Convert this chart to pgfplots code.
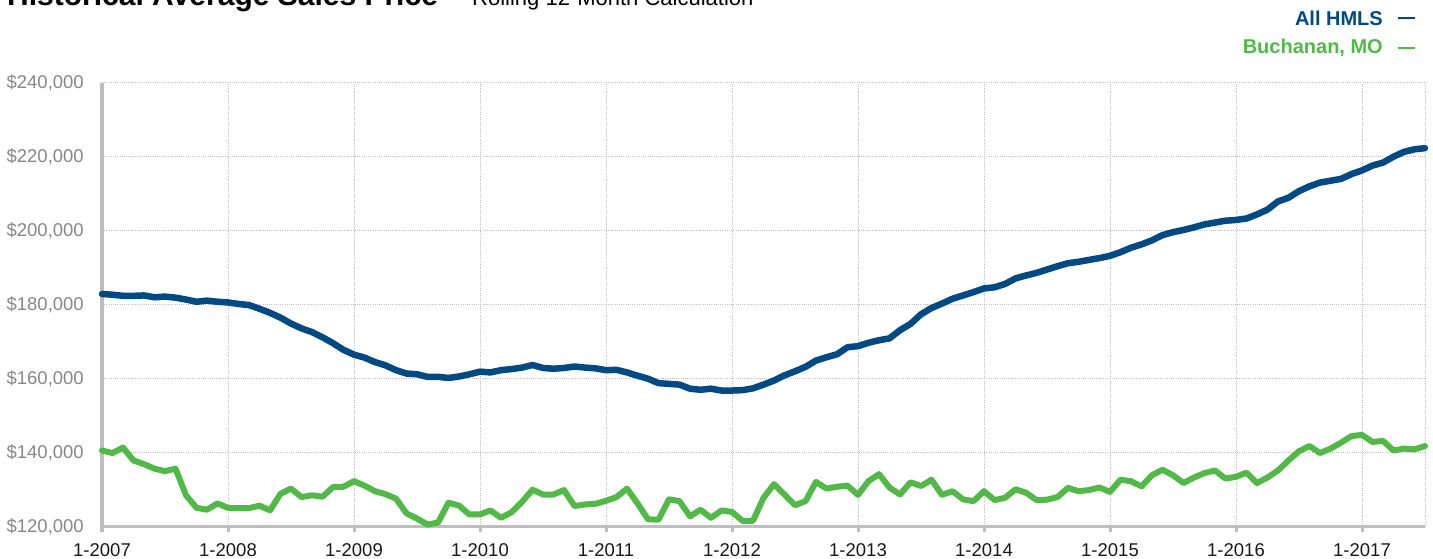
\documentclass[border=0pt]{standalone}
\usepackage{fontspec}
\setmainfont{Liberation Sans}
\usepackage{pgfplots}
\usepackage{pgfplotstable}
\pgfplotsset{compat=1.18}
\definecolor{hmls}{RGB}{0,73,131}
\definecolor{buch}{RGB}{82,185,72}
\definecolor{axgray}{RGB}{190,190,190}
\definecolor{lblgray}{RGB}{135,135,135}

\pgfplotstableread{
m v
0 182900
1 182700
2 182400
3 182400
4 182500
5 182000
6 182200
7 181900
8 181400
9 180800
10 181100
11 180800
12 180600
13 180200
14 179900
15 178900
16 177800
17 176500
18 174900
19 173600
20 172600
21 171200
22 169600
23 167800
24 166500
25 165700
26 164500
27 163600
28 162300
29 161400
30 161200
31 160500
32 160500
33 160200
34 160600
35 161200
36 161900
37 161700
38 162300
39 162600
40 163000
41 163700
42 162900
43 162700
44 162900
45 163300
46 163000
47 162800
48 162300
49 162400
50 161700
51 160800
52 160000
53 158800
54 158600
55 158400
56 157300
57 157000
58 157300
59 156800
60 156800
61 156900
62 157400
63 158400
64 159500
65 160900
66 162000
67 163200
68 164900
69 165800
70 166600
71 168500
72 168800
73 169700
74 170400
75 170900
76 173100
77 174800
78 177400
79 179100
80 180300
81 181600
82 182500
83 183400
84 184400
85 184700
86 185600
87 187100
88 187900
89 188600
90 189500
91 190400
92 191200
93 191600
94 192100
95 192600
96 193200
97 194200
98 195400
99 196300
100 197400
101 198800
102 199600
103 200200
104 200900
105 201700
106 202200
107 202700
108 202900
109 203300
110 204400
111 205700
112 207900
113 208900
114 210700
115 212000
116 213000
117 213500
118 214000
119 215300
120 216300
121 217600
122 218400
123 220000
124 221300
125 222000
126 222300
}\hmlsdata

\pgfplotstableread{
m v
0 140600
1 139900
2 141400
3 137900
4 136900
5 135700
6 135000
7 135700
8 128500
9 125100
10 124600
11 126300
12 125100
13 125000
14 125000
15 125700
16 124400
17 128900
18 130300
19 128000
20 128500
21 128100
22 130700
23 130800
24 132300
25 131100
26 129600
27 128800
28 127600
29 123600
30 122200
31 120600
32 121100
33 126500
34 125700
35 123300
36 123300
37 124400
38 122400
39 123900
40 126700
41 130000
42 128700
43 128700
44 129900
45 125600
46 126000
47 126200
48 127000
49 128000
50 130300
51 126300
52 122000
53 121900
54 127400
55 126900
56 122800
57 124600
58 122400
59 124400
60 124000
61 121600
62 121600
63 127800
64 131500
65 128700
66 125800
67 126900
68 132100
69 130300
70 130800
71 131100
72 128600
73 132300
74 134200
75 130600
76 128700
77 132000
78 131000
79 132700
80 128600
81 129600
82 127400
83 126900
84 129600
85 127200
86 127800
87 130100
88 129200
89 127200
90 127300
91 128000
92 130500
93 129600
94 129900
95 130600
96 129400
97 132700
98 132300
99 130900
100 133900
101 135400
102 133900
103 131800
104 133300
105 134500
106 135200
107 133000
108 133500
109 134600
110 131800
111 133300
112 135200
113 137900
114 140400
115 141800
116 139900
117 141100
118 142700
119 144500
120 144800
121 142900
122 143200
123 140600
124 141100
125 140900
126 141800
}\buchdata

\begin{document}
\begin{tikzpicture}
\useasboundingbox (0,0) rectangle (1433bp,559bp);
\begin{axis}[
  at={(102bp,32.3bp)}, anchor=south west,
  scale only axis, width=1323bp, height=444bp,
  xmin=0, xmax=126, ymin=120000, ymax=240000,
  clip=false,
  scaled ticks=false,
  axis x line*=bottom, axis y line*=left,
  axis line style={-, draw=axgray, line width=3.5bp},
  xtick={0,12,...,120},
  xticklabels={1-2007,1-2008,1-2009,1-2010,1-2011,1-2012,1-2013,1-2014,1-2015,1-2016,1-2017},
  ytick={120000,140000,160000,180000,200000,220000,240000},
  yticklabels={{\$120,000},{\$140,000},{\$160,000},{\$180,000},{\$200,000},{\$220,000},{\$240,000}},
  extra x ticks={126}, extra x tick labels={},
  extra x tick style={major tick length=0pt, grid=major},
  grid=major,
  major grid style={draw=axgray, line width=0.9bp, dash pattern=on 1bp off 1.2bp},
  tick align=outside,
  major tick length=5bp,
  x tick style={draw=axgray, line width=3bp},
  y tick style={draw=none},
  x tick label style={font=\fontsize{18.5bp}{22bp}\selectfont, text=black!90, inner sep=0pt, anchor=north, yshift=-12bp},
  y tick label style={font=\fontsize{18.5bp}{22bp}\selectfont, text=lblgray, inner sep=0pt, anchor=east, xshift=-13bp},
]
\addplot[draw=buch, line width=6bp, line join=round, line cap=round] table[x=m, y=v] {\buchdata};
\addplot[draw=hmls, line width=6.5bp, line join=round, line cap=round] table[x=m, y=v] {\hmlsdata};
\end{axis}
\node[anchor=base west, inner sep=0pt, font=\fontsize{30bp}{34bp}\selectfont\bfseries] at (7bp,553bp) {Historical Average Sales Price};
\node[anchor=base west, inner sep=0pt, font=\fontsize{22bp}{26bp}\selectfont] at (472bp,553bp) {Rolling 12-Month Calculation};
\node[anchor=east, inner sep=0pt, text=hmls, font=\fontsize{20bp}{24bp}\selectfont\bfseries] at (1383bp,541bp) {All HMLS};
\draw[hmls, line width=2.5bp] (1398bp,541bp) -- (1415bp,541bp);
\node[anchor=east, inner sep=0pt, text=buch, font=\fontsize{20bp}{24bp}\selectfont\bfseries] at (1383bp,511bp) {Buchanan, MO};
\draw[buch, line width=2.5bp] (1398bp,511bp) -- (1415bp,511bp);
\end{tikzpicture}
\end{document}
